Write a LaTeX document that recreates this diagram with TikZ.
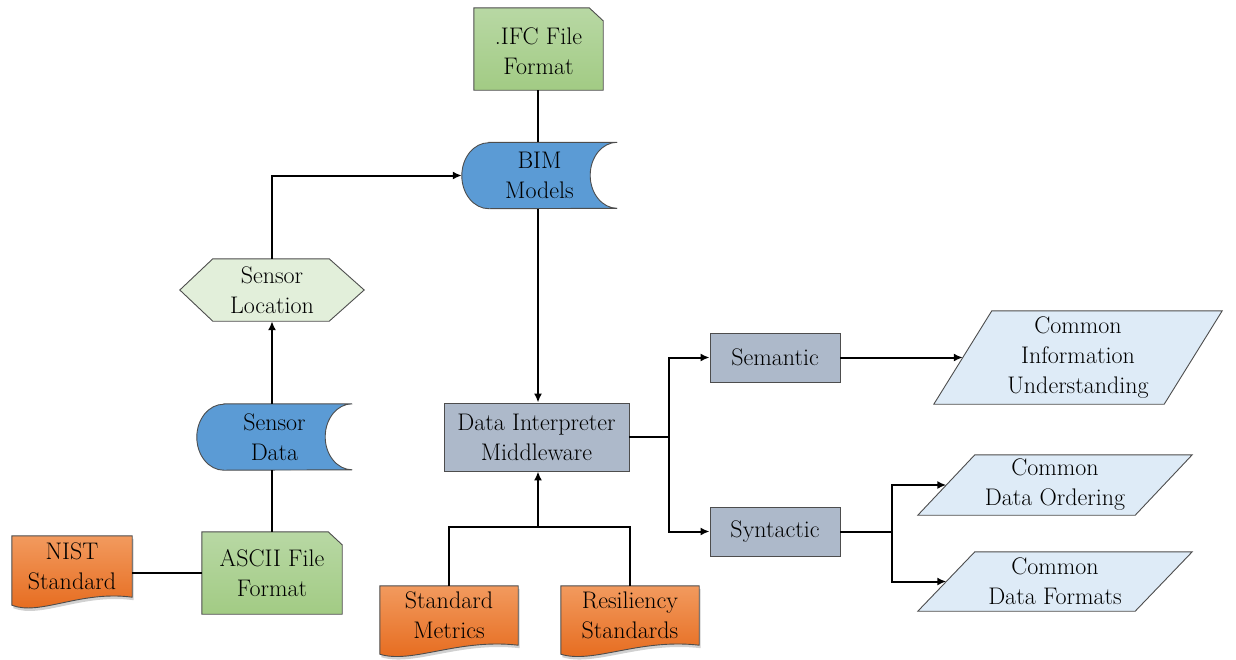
\documentclass[tikz,border=0pt]{standalone}
\usepackage{fontspec}
\usetikzlibrary{arrows.meta,backgrounds,calc}

\definecolor{edge}{HTML}{4D4D4D}
\definecolor{greenTop}{HTML}{B8D8A4}
\definecolor{greenBot}{HTML}{A2CB84}
\definecolor{storeBlue}{HTML}{5B9BD5}
\definecolor{hexGreen}{HTML}{E2EFDA}
\definecolor{slate}{HTML}{ADB9CA}
\definecolor{paleBlue}{HTML}{DEEBF7}
\definecolor{orTop}{HTML}{F29A5E}
\definecolor{orBot}{HTML}{E5681A}

\begin{document}
\begin{tikzpicture}[x=1pt,y=1pt,
  lbl/.style={font=\rmfamily\fontsize{24}{30}\selectfont, align=center, inner sep=0pt, text=black},
  box/.style={lbl, draw=edge, line width=0.9pt, fill=slate},
  outline/.style={draw=edge, line width=0.9pt},
  filedoc/.style={outline, top color=greenTop, bottom color=greenBot},
  stored/.style={outline, fill=storeBlue},
  wavedoc/.style={outline, top color=orTop, bottom color=orBot,
    preaction={fill=black!40, opacity=.45, transform canvas={xshift=1.5pt,yshift=-3pt}}},
  conn/.style={line width=2pt, black},
  arr/.style={conn, -{Latex[length=9pt,width=8pt]}},
]
\useasboundingbox (0,0) rectangle (1236,-659);

% ---- nodes ----
\node[lbl, minimum width=129pt, minimum height=82pt] (ifc) at (538.5,-51) {.IFC File\\Format};
\node[lbl, minimum width=155pt, minimum height=66pt] (bim) at (539.5,-175.5) {BIM\\Models};
\node[lbl, minimum width=184pt, minimum height=62pt] (loc) at (272,-290) {Sensor\\Location};
\node[lbl, minimum width=155pt, minimum height=66pt] (sd) at (274.5,-437) {Sensor\\Data};
\node[lbl, minimum width=140pt, minimum height=82pt] (ascii) at (272,-573) {ASCII File\\Format};
\node[lbl, minimum width=120pt, minimum height=61pt] (nist) at (72,-566.5) {NIST\\Standard};
\node[box, minimum width=185pt, minimum height=68pt] (dim) at (536.5,-437) {Data Interpreter\\Middleware};
\node[lbl, minimum width=138pt, minimum height=59pt] (sm) at (449,-615.5) {Standard\\Metrics};
\node[lbl, minimum width=138pt, minimum height=59pt] (rs) at (630,-615.5) {Resiliency\\Standards};
\node[box, minimum width=130pt, minimum height=49pt] (sem) at (775,-357.5) {Semantic};
\node[box, minimum width=130pt, minimum height=49pt] (syn) at (775,-531.5) {Syntactic};
\node[lbl, minimum width=288pt, minimum height=93pt] (ciu) at (1078,-357.5) {Common\\Information\\Understanding};
\node[lbl, minimum width=274pt, minimum height=60pt] (cdo) at (1055,-485) {Common\\Data Ordering};
\node[lbl, minimum width=274pt, minimum height=59pt] (cdf) at (1055,-581.5) {Common\\Data Formats};

% ---- shapes behind the labels ----
\begin{scope}[on background layer]
  % file documents with a clipped corner
  \path[filedoc] ([yshift=2pt]ifc.north west) -- ([xshift=-14pt,yshift=2pt]ifc.north east) -- ([yshift=-11pt]ifc.north east)
    -- ([yshift=2pt]ifc.south east) -- ([yshift=2pt]ifc.south west) -- cycle;
  \path[filedoc] (ascii.north west) -- ([xshift=-14pt]ascii.north east) -- ([yshift=-13pt]ascii.north east)
    -- (ascii.south east) -- (ascii.south west) -- cycle;
  % stored data
  \path[stored] ([xshift=27pt]bim.north west) -- (bim.north east)
    arc[start angle=90, end angle=270, x radius=27pt, y radius=33pt]
    -- ([xshift=27pt]bim.south west)
    arc[start angle=270, end angle=90, x radius=27pt, y radius=33pt] -- cycle;
  \path[stored] ([xshift=27pt]sd.north west) -- (sd.north east)
    arc[start angle=90, end angle=270, x radius=27pt, y radius=33pt]
    -- ([xshift=27pt]sd.south west)
    arc[start angle=270, end angle=90, x radius=27pt, y radius=33pt] -- cycle;
  % preparation hexagon
  \path[outline, fill=hexGreen] (loc.west) -- ([xshift=33pt]loc.north west) -- ([xshift=-35pt]loc.north east)
    -- (loc.east) -- ([xshift=-35pt]loc.south east) -- ([xshift=33pt]loc.south west) -- cycle;
  % wavy documents
  \path[wavedoc] (nist.north west) -- (nist.north east) -- (nist.south east)
    .. controls ([xshift=-52pt,yshift=7pt]nist.south east) and ([xshift=28pt,yshift=-19pt]nist.south west)
    .. ([yshift=-8pt]nist.south west) -- cycle;
  \path[wavedoc] (sm.north west) -- (sm.north east) -- (sm.south east)
    .. controls ([xshift=-60pt,yshift=7pt]sm.south east) and ([xshift=32pt,yshift=-19pt]sm.south west)
    .. ([yshift=-9pt]sm.south west) -- cycle;
  \path[wavedoc] (rs.north west) -- (rs.north east) -- (rs.south east)
    .. controls ([xshift=-60pt,yshift=7pt]rs.south east) and ([xshift=32pt,yshift=-19pt]rs.south west)
    .. ([yshift=-9pt]rs.south west) -- cycle;
  % data parallelograms
  \path[outline, fill=paleBlue] ([xshift=58pt]ciu.north west) -- (ciu.north east)
    -- ([xshift=-58pt]ciu.south east) -- (ciu.south west) -- cycle;
  \path[outline, fill=paleBlue] ([xshift=57pt]cdo.north west) -- (cdo.north east)
    -- ([xshift=-57pt]cdo.south east) -- (cdo.south west) -- cycle;
  \path[outline, fill=paleBlue] ([xshift=57pt]cdf.north west) -- (cdf.north east)
    -- ([xshift=-57pt]cdf.south east) -- (cdf.south west) -- cycle;
\end{scope}

% ---- connectors ----
\coordinate (merge) at (538,-527);
\coordinate (split) at (669,-437);
\coordinate (split2) at (892,-531.5);

\draw[conn] ([xshift=-0.5pt,yshift=2pt]ifc.south) -- ([xshift=-0.5pt]ifc.south |- bim.north);
\draw[arr] (loc.north) |- (bim.west);
\draw[arr] (loc.south |- sd.north) -- (loc.south);
\draw[conn] (ascii.north) -- (ascii.north |- sd.south);
\draw[conn] (ascii.west -| nist.east) -- (ascii.west);
\draw[arr] ([xshift=-1.5pt]bim.south) -- ([xshift=-1.5pt]bim.south |- dim.north);
\draw[conn] (sm.north) |- (merge) -| (rs.north);
\draw[arr] (merge) -- (merge |- dim.south);
\draw[conn] (dim.east) -- (split);
\draw[arr] (split) |- (sem.west);
\draw[arr] (split) |- (syn.west);
\draw[arr] (sem.east) -- ([xshift=29pt]ciu.west);
\draw[conn] (syn.east) -- (split2);
\draw[arr] (split2) |- ([xshift=28.5pt]cdo.west);
\draw[arr] (split2) |- ([xshift=28.5pt]cdf.west);
\end{tikzpicture}
\end{document}
